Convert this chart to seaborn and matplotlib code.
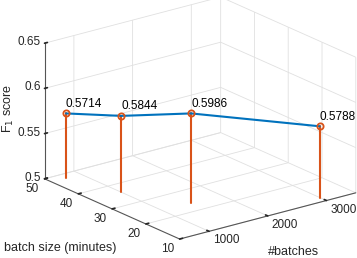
import numpy as np
import matplotlib
matplotlib.use("Agg")
import matplotlib.pyplot as plt
from mpl_toolkits.mplot3d import proj3d
import seaborn as sns

sns.set_theme(style="white")
plt.rcParams['font.family'] = ['Liberation Sans', 'DejaVu Sans']

# data
batches = [750, 1000, 1500, 3000]
batch_size = [48, 36, 24, 12]
f1_score = [0.5714, 0.5844, 0.5986, 0.5788]
labels = ["0.5714", "0.5844", "0.5986", "0.5788"]
x_ticks = [1000, 2000, 3000]
y_ticks = [10, 20, 30, 40, 50]
z_ticks = [0.5, 0.55, 0.6, 0.65]
z_tick_labels = ["0.5", "0.55", "0.6", "0.65"]

stem_color = "#D95319"
line_color = "#0072BD"
txt = "#262626"

W, H = 357, 258
fig = plt.figure(figsize=(W / 100, H / 100), dpi=100)
ax = fig.add_axes([-0.012, -0.125, 1.12, 1.3], projection='3d', proj_type='ortho')
ax.computed_zorder = False
ax.view_init(elev=20, azim=-127.5)
ax.set_box_aspect((1, 1, 0.65), zoom=1.0)

zbase = z_ticks[0]
for xv, yv, zv in zip(batches, batch_size, f1_score):
    ax.plot([xv, xv], [yv, yv], [zbase, zv], color=stem_color, lw=1.5, zorder=3)
ax.plot(batches, batch_size, f1_score, color=line_color, lw=1.5, zorder=4)
ax.plot(batches, batch_size, f1_score, ls='none', marker='o', ms=4.5,
        mfc='none', mec=stem_color, mew=1.3, zorder=5)
for xv, yv, zv, lab in zip(batches, batch_size, f1_score, labels):
    ax.text(xv, yv, zv + 0.004, lab, fontsize=8.5, color='black',
            ha='left', va='bottom', zorder=6)

xlim, ylim, zlim = (500, 3500), (10, 50), (0.5, 0.65)
ax.set_xlim(*xlim)
ax.set_ylim(*ylim)
ax.set_zlim(*zlim)
ax.set_xticks(x_ticks)
ax.set_yticks(y_ticks)
ax.set_zticks(z_ticks)
ax.set_xticklabels([])
ax.set_yticklabels([])
ax.set_zticklabels([])

for axis in (ax.xaxis, ax.yaxis, ax.zaxis):
    axis.set_pane_color((1, 1, 1, 0))
    axis.pane.set_edgecolor((1, 1, 1, 0))
    axis.line.set_color('#555555')
    axis.line.set_linewidth(0.8)
    axis._axinfo['grid']['color'] = '#e0e0e0'
    axis._axinfo['grid']['linewidth'] = 0.6
    axis._axinfo['tick']['inward_factor'] = 0.0
    axis._axinfo['tick']['outward_factor'] = 0.2
ax.grid(True)

# tick labels placed next to the projected tick positions
fig.canvas.draw()
M = ax.get_proj()
fw, fh = fig.bbox.width, fig.bbox.height


def to_fig(x, y, z):
    px, py, _ = proj3d.proj_transform(x, y, z, M)
    dx, dy = ax.transData.transform((px, py))
    return dx, dy


for xv in x_ticks:
    dx, dy = to_fig(xv, ylim[0], zlim[0])
    fig.text((dx + 17) / fw, (dy - 9) / fh, f"{xv}", fontsize=8.5, color=txt,
             ha='center', va='center')
for yv in y_ticks:
    dx, dy = to_fig(xlim[0], yv, zlim[0])
    fig.text((dx - 12) / fw, (dy - 10) / fh, f"{yv}", fontsize=8.5, color=txt,
             ha='center', va='center')
for zv, zl in zip(z_ticks, z_tick_labels):
    dx, dy = to_fig(xlim[0], ylim[1], zv)
    fig.text((dx - 4) / fw, (dy + 1) / fh, zl, fontsize=8.5, color=txt,
             ha='right', va='center')

fig.text(293 / W, 1 - 252 / H, "#batches", fontsize=9, color=txt,
         ha='center', va='center')
fig.text(4 / W, 1 - 248 / H, "batch size (minutes)", fontsize=9, color=txt,
         ha='left', va='center')
fig.text(8 / W, 1 - 108 / H, "F$_1$ score", fontsize=9, color=txt,
         ha='center', va='center', rotation=90)

fig.savefig("out.png", dpi=100)
